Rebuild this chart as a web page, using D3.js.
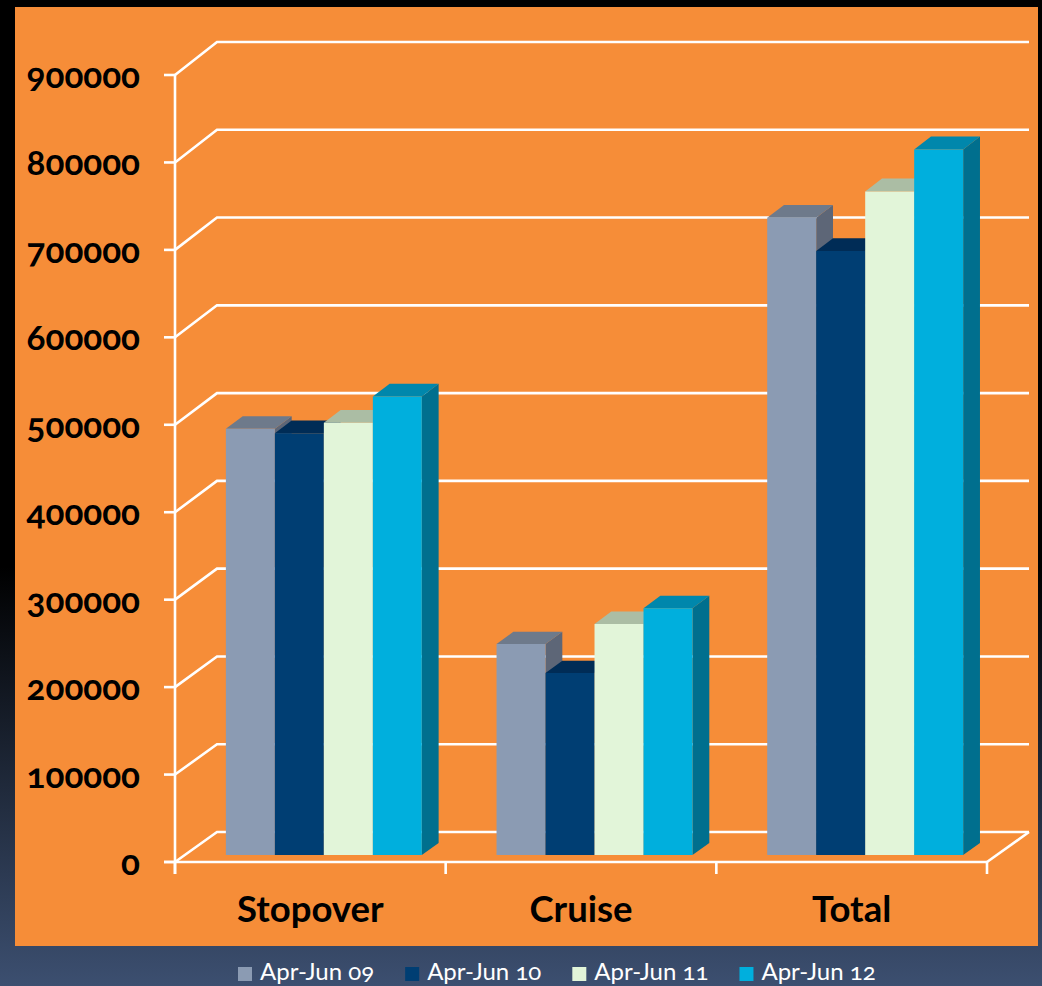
<!DOCTYPE html>
<html><head><meta charset="utf-8">
<script src="https://cdn.jsdelivr.net/npm/d3@7"></script>
<style>html,body{margin:0;padding:0;background:#000;} svg{display:block}</style>
</head><body>
<svg id="c" width="1042" height="986"></svg>
<script>
// ---- data ----
const categories = ["Stopover", "Cruise", "Total"];
const seriesNames = ["Apr-Jun 09", "Apr-Jun 10", "Apr-Jun 11", "Apr-Jun 12"];
const aprJun09 = [487000, 241000, 728000];
const aprJun10 = [482000, 208000, 690000];
const aprJun11 = [494000, 264000, 758000];
const aprJun12 = [524000, 282000, 806000];
const yTickValues = [0, 100000, 200000, 300000, 400000, 500000, 600000, 700000, 800000, 900000];
const frontColors = ["#8b9bb3", "#003e73", "#e2f5d9", "#00afdd"];
const topColors   = ["#6e7a8b", "#002c56", "#abbda4", "#0087ac"];
const sideColors  = ["#5d6677", "#00284d", "#b3c5ac", "#006f8e"];

const seriesValues = [aprJun09, aprJun10, aprJun11, aprJun12];

const svg = d3.select("#c");
const W = 1042, H = 986;

// background gradient
const defs = svg.append("defs");
const bg = defs.append("linearGradient").attr("id", "bg").attr("x1", 0).attr("y1", 0).attr("x2", 0).attr("y2", 1);
bg.append("stop").attr("offset", "0").attr("stop-color", "#000");
bg.append("stop").attr("offset", "0.575").attr("stop-color", "#000");
bg.append("stop").attr("offset", "1").attr("stop-color", "#3c4f70");
svg.append("rect").attr("width", W).attr("height", H).attr("fill", "url(#bg)");

// orange panel
svg.append("rect").attr("x", 15).attr("y", 7).attr("width", 1023).attr("height", 939).attr("fill", "#f68d38");

// ---- scales ----
const X0 = 175, X1 = 987, DX = 42;
const yFront = d3.scaleLinear().domain([0, 900000]).range([862, 75]);
const yBack  = d3.scaleLinear().domain([0, 900000]).range([832, 42]);
function proj(xf, v, z) {
  return [xf + z * DX, yFront(v) + z * (yBack(v) - yFront(v))];
}
const xAxisScale = d3.scaleBand().domain(categories).range([X0, X1]).padding(0);
const xGroup = d3.scaleBand().domain(categories).range([X0, X1])
  .paddingInner(0.276).paddingOuter(0.138).align(0.55);
const xSeries = d3.scaleBand().domain(seriesNames).range([0, xGroup.bandwidth()]).padding(0);

const lineCol = "#ffffff", lw = 2.6;
const g = svg.append("g");

// gridlines: left wall diagonal + back wall
yTickValues.forEach(v => {
  const pts = [proj(X0, v, 0), proj(X0, v, 1), proj(X1, v, 1)];
  g.append("polyline").attr("points", pts.map(p => p.join(",")).join(" "))
    .attr("fill", "none").attr("stroke", lineCol).attr("stroke-width", lw);
});
// floor right edge
{
  const a = proj(X1, 0, 0), b = proj(X1, 0, 1);
  g.append("line").attr("x1", a[0]).attr("y1", a[1]).attr("x2", b[0]).attr("y2", b[1])
    .attr("stroke", lineCol).attr("stroke-width", lw);
}
// front baseline
g.append("line").attr("x1", X0 - 11).attr("x2", X1).attr("y1", yFront(0)).attr("y2", yFront(0))
  .attr("stroke", lineCol).attr("stroke-width", lw);
// front vertical axis
g.append("line").attr("x1", X0).attr("x2", X0).attr("y1", yFront(900000)).attr("y2", yFront(0) + 12)
  .attr("stroke", lineCol).attr("stroke-width", lw);
// y ticks
yTickValues.forEach(v => {
  g.append("line").attr("x1", X0 - 11).attr("x2", X0).attr("y1", yFront(v)).attr("y2", yFront(v))
    .attr("stroke", lineCol).attr("stroke-width", lw);
});
// x ticks at category boundaries
const bounds = categories.map(c => xAxisScale(c)).concat([X1]);
bounds.forEach(x => {
  g.append("line").attr("x1", x).attr("x2", x).attr("y1", yFront(0)).attr("y2", yFront(0) + 12)
    .attr("stroke", lineCol).attr("stroke-width", lw);
});

// y labels
svg.append("g").selectAll("text").data(yTickValues).join("text")
  .attr("x", 140).attr("y", d => yFront(d) + 4)
  .attr("text-anchor", "end").attr("dominant-baseline", "middle")
  .style("font-family", "Lato, 'Open Sans', sans-serif").style("font-weight", "bold")
  .style("font-size", "35px").style("font-variant-numeric", "oldstyle-nums")
  .attr("fill", "#000").text(d => d);

// category labels
svg.append("g").selectAll("text").data(categories).join("text")
  .attr("x", d => xAxisScale(d) + xAxisScale.bandwidth() / 2).attr("y", 922)
  .attr("text-anchor", "middle")
  .style("font-family", "Lato, 'Open Sans', sans-serif").style("font-weight", "bold")
  .style("font-size", "36.5px").attr("fill", "#000").text(d => d);

// ---- bars ----
const Z0 = 0.233, Z1 = 0.633;
const bars = svg.append("g");
const poly = pts => pts.map(p => p.join(",")).join(" ");
categories.forEach((cat, ci) => {
  seriesNames.forEach((s, si) => {
    const v = seriesValues[si][ci];
    const xa = xGroup(cat) + xSeries(s), xb = xa + xSeries.bandwidth();
    bars.append("polygon").attr("points", poly([proj(xb, 0, Z0), proj(xb, 0, Z1), proj(xb, v, Z1), proj(xb, v, Z0)]))
      .attr("fill", sideColors[si]);
    bars.append("polygon").attr("points", poly([proj(xa, v, Z0), proj(xb, v, Z0), proj(xb, v, Z1), proj(xa, v, Z1)]))
      .attr("fill", topColors[si]);
    bars.append("polygon").attr("points", poly([proj(xa, 0, Z0), proj(xb, 0, Z0), proj(xb, v, Z0), proj(xa, v, Z0)]))
      .attr("fill", frontColors[si]);
  });
});

// ---- legend ----
const leg = svg.append("g");
let lx = 238;
seriesNames.forEach((s, si) => {
  leg.append("rect").attr("x", lx).attr("y", 967).attr("width", 14).attr("height", 14).attr("fill", frontColors[si]);
  const t = leg.append("text").attr("x", lx + 22).attr("y", 980)
    .style("font-family", "Lato, 'Open Sans', sans-serif").style("font-size", "24px")
    .style("font-variant-numeric", "oldstyle-nums")
    .attr("fill", "#fff").text(s);
  lx += 22 + t.node().getComputedTextLength() + 31;
});
</script>
</body></html>
